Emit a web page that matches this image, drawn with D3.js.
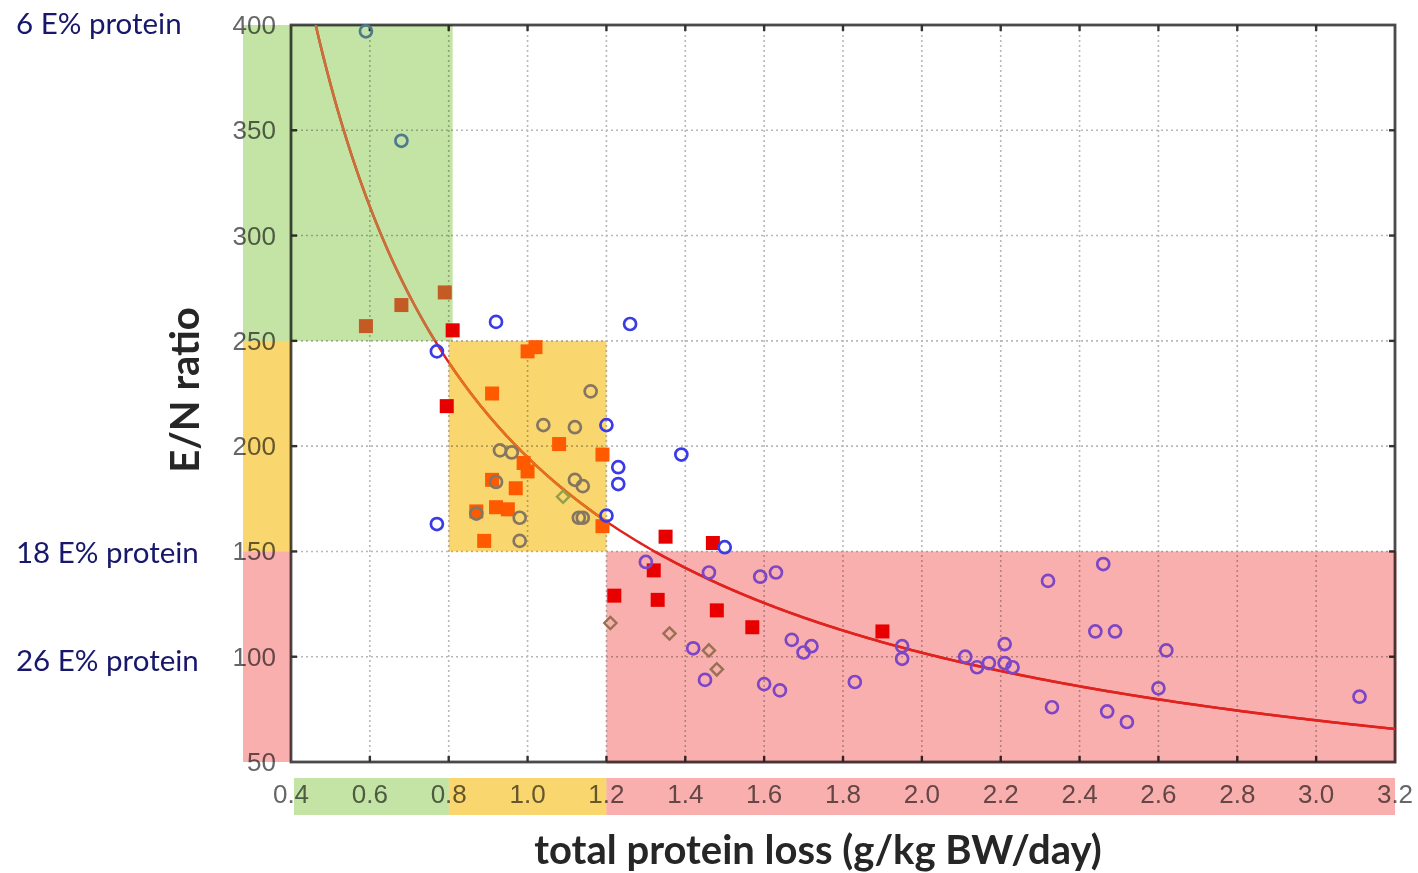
<!DOCTYPE html>
<html>
<head>
<meta charset="utf-8">
<script src="https://cdn.jsdelivr.net/npm/d3@7/dist/d3.min.js"></script>
<style>
  html, body { margin: 0; padding: 0; background: #fff; }
  svg { display: block; }
</style>
</head>
<body>
<svg id="chart" width="1418" height="873"></svg>
<script>
// ---- data ----
const xTicks = [0.4, 0.6, 0.8, 1.0, 1.2, 1.4, 1.6, 1.8, 2.0, 2.2, 2.4, 2.6, 2.8, 3.0, 3.2];
const yTicks = [50, 100, 150, 200, 250, 300, 350, 400];

// open circles [protein loss, E/N ratio]
const circles = [
  [0.59, 397], [0.68, 345],
  [0.92, 259], [1.26, 258], [0.77, 245], [1.20, 210], [1.39, 196],
  [1.23, 190], [1.23, 182], [0.77, 163], [1.20, 167], [1.50, 152],
  [1.16, 226], [1.04, 210], [1.12, 209], [0.93, 198], [0.96, 197],
  [1.12, 184], [1.14, 181], [1.13, 166], [1.14, 166], [0.98, 166],
  [0.98, 155], [0.87, 168], [0.92, 183],
  [1.30, 145], [1.46, 140], [1.59, 138], [1.63, 140], [1.42, 104],
  [1.45, 89], [1.60, 87], [1.64, 84], [1.67, 108], [1.70, 102],
  [1.72, 105], [1.83, 88], [1.95, 105], [1.95, 99], [2.11, 100],
  [2.14, 95], [2.17, 97], [2.21, 97], [2.21, 106], [2.23, 95],
  [2.32, 136], [2.33, 76], [2.46, 144], [2.44, 112], [2.49, 112],
  [2.47, 74], [2.52, 69], [2.62, 103], [2.60, 85], [3.11, 81]
];

// filled squares
const squares = [
  [0.59, 257], [0.68, 267], [0.79, 273], [0.81, 255],
  [1.02, 247], [1.00, 245], [0.91, 225], [0.795, 219], [1.08, 201],
  [1.19, 196], [0.99, 192], [1.00, 188], [0.91, 184], [0.97, 180],
  [0.87, 169], [0.92, 171], [0.95, 170], [0.89, 155], [1.19, 162],
  [1.35, 157], [1.47, 154], [1.32, 141], [1.22, 129], [1.33, 127],
  [1.48, 122], [1.57, 114], [1.90, 112]
];

// open diamonds
const diamonds = [
  [1.09, 176], [1.21, 116], [1.36, 111], [1.46, 103], [1.48, 94]
];

// fitted power curve  E/N = a * loss^b
const fitA = 194.7;
const fitB = -0.934;

// intake zones: [x0, x1, y0, y1]
const zoneGreen = [0.4, 0.81, 250, 400];
const zoneYellow = [0.8, 1.2, 150, 250];
const zonePink = [1.2, 3.2, 50, 150];

const zoneLabels = ["6 E% protein", "18 E% protein", "26 E% protein"];

// ---- layout ----
const svg = d3.select("#chart");
const M = { left: 291, right: 1395, top: 25, bottom: 762 };

const x = d3.scaleLinear().domain([0.4, 3.2]).range([M.left, M.right]);
const y = d3.scaleLinear().domain([50, 400]).range([M.bottom, M.top]);

const fill = { green: "#c3e4a5", yellow: "#fad66f", pink: "#faafaf" };

const markColor = {
  circle:  { white: "#3b3be6", green: "#4f7a8c", yellow: "#857660", pink: "#7d46c4" },
  square:  { white: "#e60000", green: "#c45a24", yellow: "#ff5a00", pink: "#e80000" },
  diamond: { white: "#6f8f40", green: "#6f8f40", yellow: "#92a048", pink: "#9a7052" },
  line:    { white: "#e0231e", green: "#c9703a", yellow: "#e2701c", pink: "#e0231e" }
};

function zoneOf(d) {
  const inZ = z => d[0] >= z[0] && d[0] < z[1] && d[1] >= z[2] && d[1] < z[3] + 1;
  if (inZ(zoneGreen)) return "green";
  if (inZ(zoneYellow)) return "yellow";
  if (inZ(zonePink)) return "pink";
  return "white";
}

// ---- gridlines ----
const grid = svg.append("g");
grid.selectAll("line.gx").data(xTicks.slice(1, -1)).join("line")
  .attr("x1", d => x(d)).attr("x2", d => x(d))
  .attr("y1", M.top).attr("y2", M.bottom)
  .attr("stroke", "#b8b8b8").attr("stroke-width", 1.6).attr("stroke-dasharray", "2,3");
grid.selectAll("line.gy").data(yTicks.slice(1, -1)).join("line")
  .attr("y1", d => y(d)).attr("y2", d => y(d))
  .attr("x1", M.left).attr("x2", M.right)
  .attr("stroke", "#b8b8b8").attr("stroke-width", 1.6).attr("stroke-dasharray", "2,3");

// ---- frame and inward ticks ----
const frame = svg.append("g");
frame.append("rect")
  .attr("x", M.left).attr("y", M.top)
  .attr("width", M.right - M.left).attr("height", M.bottom - M.top)
  .attr("fill", "none").attr("stroke", "#4a4a4a").attr("stroke-width", 2.8);

frame.selectAll("line.tb").data(xTicks.slice(1, -1)).join("line")
  .attr("x1", d => x(d)).attr("x2", d => x(d))
  .attr("y1", M.bottom).attr("y2", M.bottom - 6)
  .attr("stroke", "#333").attr("stroke-width", 2.4);
frame.selectAll("line.tt").data(xTicks.slice(1, -1)).join("line")
  .attr("x1", d => x(d)).attr("x2", d => x(d))
  .attr("y1", M.top).attr("y2", M.top + 6)
  .attr("stroke", "#333").attr("stroke-width", 2.4);
frame.selectAll("line.tl").data(yTicks.slice(1, -1)).join("line")
  .attr("y1", d => y(d)).attr("y2", d => y(d))
  .attr("x1", M.left).attr("x2", M.left + 6)
  .attr("stroke", "#333").attr("stroke-width", 2.4);
frame.selectAll("line.tr").data(yTicks.slice(1, -1)).join("line")
  .attr("y1", d => y(d)).attr("y2", d => y(d))
  .attr("x1", M.right).attr("x2", M.right - 6)
  .attr("stroke", "#333").attr("stroke-width", 2.4);

// ---- zone bands inside the plot (tinting the grid and frame) ----
const bands = svg.append("g");
[[zoneGreen, "green"], [zoneYellow, "yellow"], [zonePink, "pink"]].forEach(([z, k]) => {
  bands.append("rect")
    .attr("x", x(z[0])).attr("y", y(z[3]))
    .attr("width", x(z[1]) - x(z[0]) + (k === "pink" ? 1.5 : 0))
    .attr("height", y(z[2]) - y(z[3]) + (k === "pink" ? 1.5 : 0))
    .attr("fill", fill[k])
    .style("mix-blend-mode", "multiply");
});

// ---- tick labels ----
const labelFont = "'Liberation Sans', Arial, sans-serif";
svg.append("g").selectAll("text").data(yTicks).join("text")
  .attr("x", M.left - 15).attr("y", d => y(d))
  .attr("text-anchor", "end").attr("dominant-baseline", "central")
  .attr("font-family", labelFont).attr("font-size", 26).attr("fill", "#666")
  .text(d => d);
svg.append("g").selectAll("text").data(xTicks).join("text")
  .attr("x", d => x(d)).attr("y", 794)
  .attr("text-anchor", "middle").attr("dominant-baseline", "central")
  .attr("font-family", labelFont).attr("font-size", 26).attr("fill", "#666")
  .text(d => d.toFixed(1));

// ---- zone strips along the axes ----
const strips = svg.append("g");
[[zoneGreen, "green"], [zoneYellow, "yellow"], [zonePink, "pink"]].forEach(([z, k]) => {
  strips.append("rect")
    .attr("x", 243).attr("width", M.left - 243)
    .attr("y", y(z[3])).attr("height", y(z[2]) - y(z[3]))
    .attr("fill", fill[k]).style("mix-blend-mode", "multiply");
  const x0 = k === "green" ? x(z[0]) + 3 : x(z[0]);
  const x1 = k === "green" ? x(0.8) : x(z[1]);
  strips.append("rect")
    .attr("x", x0).attr("width", x1 - x0)
    .attr("y", 778).attr("height", 37)
    .attr("fill", fill[k]).style("mix-blend-mode", "multiply");
});

// ---- fitted curve ----
const defs = svg.append("defs");
[[zoneGreen, "green"], [zoneYellow, "yellow"], [zonePink, "pink"]].forEach(([z, k]) => {
  defs.append("clipPath").attr("id", "clip-" + k)
    .append("rect")
    .attr("x", x(z[0])).attr("y", y(z[3]))
    .attr("width", x(z[1]) - x(z[0])).attr("height", y(z[2]) - y(z[3]));
});
defs.append("clipPath").attr("id", "clip-plot")
  .append("rect").attr("x", M.left).attr("y", M.top)
  .attr("width", M.right - M.left).attr("height", M.bottom - M.top);

const xStart = Math.pow(400 / fitA, 1 / fitB);
const curveXs = d3.range(0, 301).map(i => xStart + (3.2 - xStart) * i / 300);
const curveLine = d3.line()
  .x(v => x(v))
  .y(v => y(fitA * Math.pow(v, fitB)))
  .curve(d3.curveLinear);

const curveG = svg.append("g").attr("clip-path", "url(#clip-plot)");
curveG.append("path").datum(curveXs).attr("d", curveLine)
  .attr("fill", "none").attr("stroke", markColor.line.white).attr("stroke-width", 2.4);
["green", "yellow", "pink"].forEach(k => {
  curveG.append("g").attr("clip-path", `url(#clip-${k})`)
    .append("path").datum(curveXs).attr("d", curveLine)
    .attr("fill", "none").attr("stroke", markColor.line[k]).attr("stroke-width", 2.6);
});

// ---- points ----
const pts = svg.append("g");
pts.selectAll("rect.sq").data(squares).join("rect")
  .attr("x", d => x(d[0]) - 7).attr("y", d => y(d[1]) - 7)
  .attr("width", 14).attr("height", 14)
  .attr("fill", d => markColor.square[zoneOf(d)]);

pts.selectAll("circle.c").data(circles).join("circle")
  .attr("cx", d => x(d[0])).attr("cy", d => y(d[1])).attr("r", 6)
  .attr("fill", "none")
  .attr("stroke", d => markColor.circle[zoneOf(d)]).attr("stroke-width", 2.7);

const diamondPath = d3.symbol().type(d3.symbolDiamond2).size(95);
pts.selectAll("path.dm").data(diamonds).join("path")
  .attr("d", diamondPath)
  .attr("transform", d => `translate(${x(d[0])},${y(d[1])})`)
  .attr("fill", "none")
  .attr("stroke", d => markColor.diamond[zoneOf(d)]).attr("stroke-width", 2.4);

// ---- axis titles ----
svg.append("text")
  .attr("transform", "translate(199,390) rotate(-90)")
  .attr("text-anchor", "middle")
  .attr("font-family", "Lato, 'Open Sans', sans-serif").attr("font-weight", 700)
  .attr("font-size", 40).attr("fill", "#262626")
  .text("E/N ratio");

svg.append("text")
  .attr("x", 818).attr("y", 864)
  .attr("text-anchor", "middle")
  .attr("font-family", "Lato, 'Open Sans', sans-serif").attr("font-weight", 700)
  .attr("font-size", 40).attr("fill", "#262626")
  .text("total protein loss (g/kg BW/day)");

// ---- intake annotations ----
const annY = [22, 551, 659];
svg.append("g").selectAll("text").data(zoneLabels).join("text")
  .attr("x", 16).attr("y", (d, i) => annY[i])
  .attr("dominant-baseline", "central")
  .attr("font-family", "Lato, 'Open Sans', sans-serif")
  .attr("font-size", 29.5).attr("fill", "#17176b")
  .text(d => d);
</script>
</body>
</html>
